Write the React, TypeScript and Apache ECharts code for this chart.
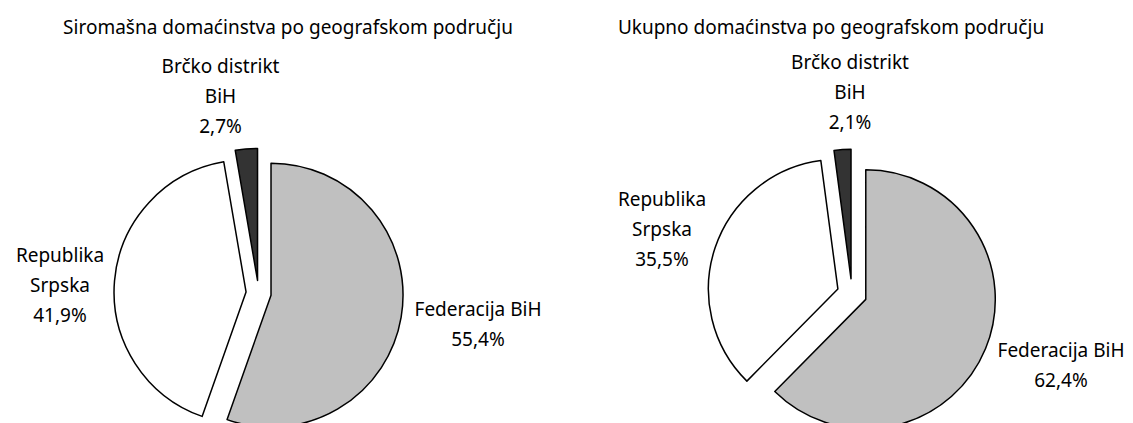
import React, { useEffect, useRef } from "react";
import * as echarts from "echarts";

const categories = ["Federacija BiH", "Republika Srpska", "Brčko distrikt BiH"];
const labelText = ["Federacija BiH", "Republika\nSrpska", "Brčko distrikt\nBiH"];
const poorValues = [55.4, 41.9, 2.7];
const totalValues = [62.4, 35.5, 2.1];
const titles = [
  "Siromašna domaćinstva po geografskom području",
  "Ukupno domaćinstva po geografskom području",
];

const colors = ["#c0c0c0", "#ffffff", "#333333"];
const FONT = "Noto Sans";
const FS = 19;

// label centers (layout only)
const labelPos = [
  [
    [478, 324],
    [60, 285],
    [220.5, 96],
  ],
  [
    [1061, 365],
    [662, 229],
    [850, 91.5],
  ],
];
const titlePos = [
  [288, 26.5],
  [831, 26.5],
];

function fmt(v: number) {
  return v.toFixed(1).replace(".", ",") + "%";
}

function makeSeries(values: number[], center: number[], radius: number, offset: number) {
  return {
    type: "pie",
    center,
    radius,
    startAngle: 90,
    clockwise: true,
    selectedMode: "multiple",
    selectedOffset: offset,
    avoidLabelOverlap: false,
    emphasis: { disabled: true },
    label: { show: false },
    labelLine: { show: false },
    data: categories.map((c, i) => ({
      name: c,
      value: values[i],
      selected: true,
      itemStyle: { color: colors[i], borderColor: "#000", borderWidth: 1.5 },
      select: { itemStyle: { color: colors[i], borderColor: "#000", borderWidth: 1.5 } },
    })),
  };
}

function labelGraphics(values: number[], idx: number) {
  return categories.map((_, i) => ({
    type: "text",
    x: labelPos[idx][i][0],
    y: labelPos[idx][i][1],
    z: 10,
    style: {
      text: labelText[i] + "\n" + fmt(values[i]),
      fontFamily: FONT,
      fontSize: FS,
      lineHeight: 30,
      fill: "#000",
      textAlign: "center",
      textVerticalAlign: "middle",
    },
  }));
}

export default function App() {
  const ref = useRef<HTMLDivElement>(null);
  useEffect(() => {
    if (!ref.current) return;
    const chart = echarts.init(ref.current, undefined, { renderer: "svg" });
    chart.setOption({
      animation: false,
      backgroundColor: "#ffffff",
      tooltip: { show: false },
      graphic: [
        ...titles.map((t, i) => ({
          type: "text",
          x: titlePos[i][0],
          y: titlePos[i][1],
          style: {
            text: t,
            fontFamily: FONT,
            fontSize: FS,
            fill: "#000",
            textAlign: "center",
            textVerticalAlign: "middle",
          },
        })),
        ...labelGraphics(poorValues, 0),
        ...labelGraphics(totalValues, 1),
      ],
      series: [
        makeSeries(poorValues, [258.6, 293], 132, 12.6),
        makeSeries(totalValues, [852, 293.7], 129.5, 14.9),
      ],
    });
    return () => chart.dispose();
  }, []);
  return (
    <div style={{ position: "fixed", left: 0, top: 0, width: 1133, height: 423, background: "#fff" }}>
      <div ref={ref} style={{ width: 1133, height: 423 }} />
    </div>
  );
}
